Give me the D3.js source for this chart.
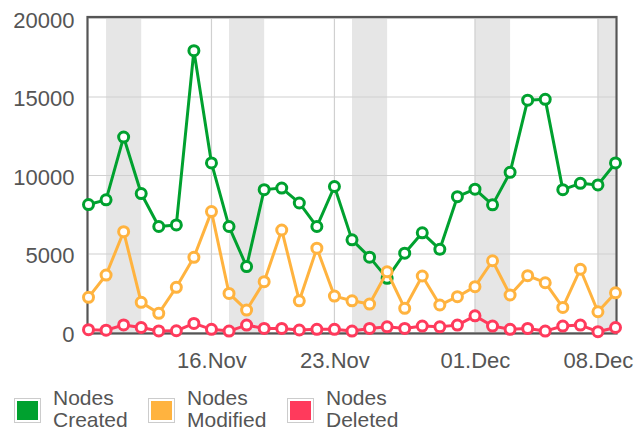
<!DOCTYPE html>
<html><head><meta charset="utf-8">
<script src="https://cdn.jsdelivr.net/npm/d3@7"></script>
<style>body{margin:0;background:#fff} svg{display:block;font-family:"Liberation Sans",Arial,sans-serif}</style>
</head><body><svg id="c" width="636" height="432"></svg>
<script>
const days = ["2012-11-09","2012-11-10","2012-11-11","2012-11-12","2012-11-13","2012-11-14","2012-11-15","2012-11-16","2012-11-17","2012-11-18","2012-11-19","2012-11-20","2012-11-21","2012-11-22","2012-11-23","2012-11-24","2012-11-25","2012-11-26","2012-11-27","2012-11-28","2012-11-29","2012-11-30","2012-12-01","2012-12-02","2012-12-03","2012-12-04","2012-12-05","2012-12-06","2012-12-07","2012-12-08","2012-12-09"];
const created = [8150,8450,12450,8850,6750,6850,17950,10800,6750,4200,9100,9200,8250,6750,9300,5900,4800,3450,5050,6350,5300,8650,9130,8130,10200,14800,14850,9100,9500,9400,10800];
const modified = [2240,3660,6420,1920,1220,2880,4790,7700,2490,1430,3240,6530,2020,5370,2320,2020,1810,3870,1540,3600,1750,2280,2920,4570,2390,3620,3170,1600,4030,1320,2530];
const deleted = [180,150,480,320,100,110,580,200,90,470,260,260,160,200,200,90,260,360,260,410,360,470,1060,410,200,260,90,410,470,50,320];
const xTickDates = ["2012-11-16","2012-11-23","2012-12-01","2012-12-08"];
const xTickLabels = ["16.Nov","23.Nov","01.Dec","08.Dec"];
const yTicks = [0,5000,10000,15000,20000];
const seriesLabels = [["Nodes","Created"],["Nodes","Modified"],["Nodes","Deleted"]];
const seriesColors = ["#00a12f","#ffb33f","#ff3a5c"];

const parse = d3.timeParse("%Y-%m-%d");
const dates = days.map(parse);
const svg = d3.select("#c");
const L = 88.5, R = 615.5, T = 18.5, B = 332.5;
const x = d3.scaleTime().domain([dates[0], dates[dates.length-1]]).range([L, R]);
const y = d3.scaleLinear().domain([0, 20000]).range([B, T]);

// weekend bands
const bands = svg.append("g");
dates.filter(d => d.getDay() === 6).forEach(d => {
  const x0 = x(d), x1 = Math.min(R, x(d3.timeDay.offset(d, 2)));
  bands.append("rect").attr("x", x0).attr("y", T).attr("width", x1 - x0).attr("height", B - T).attr("fill", "#e6e6e6");
});

// grid
const grid = svg.append("g").attr("stroke", "#d0d0d0").attr("stroke-width", 1.2);
yTicks.forEach(v => grid.append("line").attr("x1", L).attr("x2", R).attr("y1", y(v)).attr("y2", y(v)));
xTickDates.map(parse).forEach(d => grid.append("line").attr("x1", x(d)).attr("x2", x(d)).attr("y1", T).attr("y2", B));

// axes labels
const yAxis = svg.append("g").attr("transform", `translate(${L},0)`)
  .call(d3.axisLeft(y).tickValues(yTicks).tickSize(0).tickPadding(14).tickFormat(d3.format("d")));
yAxis.select(".domain").remove();
yAxis.selectAll("text").attr("font-size", 22).attr("fill", "#555").attr("dy", "0.4em").attr("font-family", "Liberation Sans, Arial, sans-serif");

const xAxis = svg.append("g").attr("transform", `translate(0,${B})`)
  .call(d3.axisBottom(x).tickValues(xTickDates.map(parse)).tickSize(0).tickPadding(20).tickFormat((d, i) => xTickLabels[i]));
xAxis.select(".domain").remove();
xAxis.selectAll("text").attr("font-size", 22).attr("fill", "#555").attr("font-family", "Liberation Sans, Arial, sans-serif");

// border
svg.append("rect").attr("x", L - 1).attr("y", T - 1.5).attr("width", R - L + 2).attr("height", B - T + 2.5)
  .attr("fill", "none").attr("stroke", "#555").attr("stroke-width", 2.2);

// series
const seriesData = [created, modified, deleted];
const line = d3.line().x((d, i) => x(dates[i])).y(d => y(d));
seriesData.forEach((s, k) => {
  const g = svg.append("g");
  g.append("path").attr("d", line(s)).attr("fill", "none").attr("stroke", seriesColors[k]).attr("stroke-width", 3).attr("stroke-linejoin", "round");
  g.selectAll("circle").data(s).join("circle")
    .attr("cx", (d, i) => x(dates[i])).attr("cy", d => y(d)).attr("r", 5)
    .attr("fill", "#fff").attr("stroke", seriesColors[k]).attr("stroke-width", 3);
});

// legend
const legX = [14, 148, 287];
const leg = svg.append("g");
seriesLabels.forEach((lab, k) => {
  const gx = legX[k];
  leg.append("rect").attr("x", gx + 0.5).attr("y", 398.5).attr("width", 26).attr("height", 24).attr("fill", "#fff").attr("stroke", "#ccc");
  leg.append("rect").attr("x", gx + 3).attr("y", 401).attr("width", 21).attr("height", 19).attr("fill", seriesColors[k]);
  leg.append("text").attr("x", gx + 39).attr("y", 404.5).attr("font-size", 21).attr("fill", "#555").text(lab[0]);
  leg.append("text").attr("x", gx + 39).attr("y", 426.5).attr("font-size", 21).attr("fill", "#555").text(lab[1]);
});
</script>
</body></html>
